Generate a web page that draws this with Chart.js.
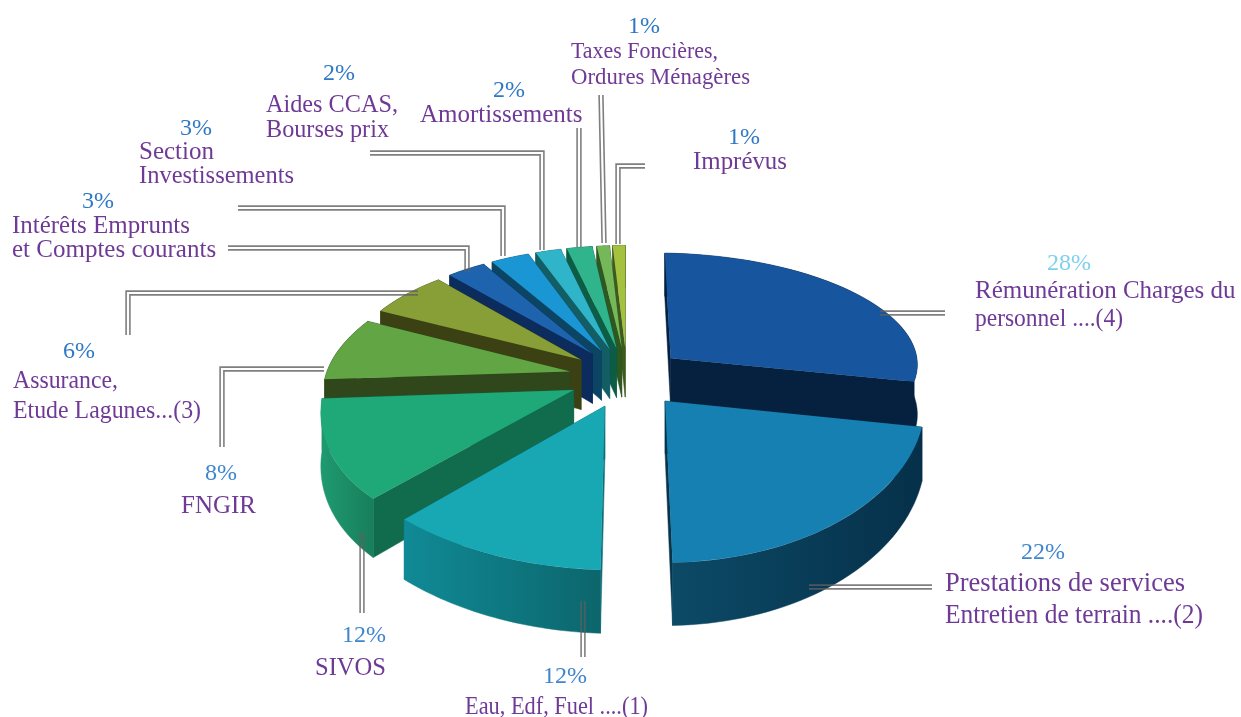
<!DOCTYPE html>
<html>
<head>
  <title>Répartition des dépenses</title>
  <script src="https://cdn.jsdelivr.net/npm/chart.js"></script>
  <style>
    html, body { margin: 0; padding: 0; background: #fff; }
    #box { width: 1241px; height: 717px; position: relative; }
  </style>
</head>
<body>
  <div id="box"><canvas id="grafico" width="1241" height="717"></canvas></div>

  <script>
    // values
    var categories = ["Rémunération Charges du personnel", "Prestations de services", "Eau, Edf, Fuel", "SIVOS", "FNGIR", "Assurance, Etude Lagunes", "Intérêts Emprunts et Comptes courants", "Section Investissements", "Aides CCAS, Bourses prix", "Amortissements", "Taxes Foncières, Ordures Ménagères", "Imprévus"];
    var values = [28, 22, 12, 12, 8, 6, 3, 3, 2, 2, 1, 1];
    var topColors = ["#17559f", "#1780b2", "#18a8b4", "#1fa878", "#62a544", "#879f36", "#1e63ad", "#1a96d4", "#30b4c9", "#2fb48c", "#74b85a", "#a4c13f"];
    var sideColors = ["#05213f", "#07354d", "#0e6f7a", "#116b4d", "#2f471b", "#3c4113", "#0b2c5c", "#0c4464", "#125e64", "#0d5c45", "#2f5720", "#3f5a1e"];
    var rimLeft = ["#05213f", "#0c4a66", "#108a96", "#1f9a70", "#2f471b", "#3c4113", "#0b2c5c", "#0c4464", "#125e64", "#0d5c45", "#2f5720", "#3f5a1e"];
    var rimRight = ["#05213f", "#06304a", "#0c666c", "#177f5c", "#2f471b", "#3c4113", "#0b2c5c", "#0c4464", "#125e64", "#0d5c45", "#2f5720", "#3f5a1e"];

    // text blocks: percent then the lines under it
    var pctLabels = [
      { t: "28%", x: 1047, y: 270, c: "#7fd0ee" },
      { t: "22%", x: 1021, y: 559, c: "#3f86cf" },
      { t: "12%", x: 543, y: 683, c: "#3f86cf" },
      { t: "12%", x: 342, y: 642, c: "#3f86cf" },
      { t: "8%", x: 205, y: 480, c: "#3f86cf" },
      { t: "6%", x: 63, y: 358, c: "#2f78c4" },
      { t: "3%", x: 82, y: 208, c: "#2f78c4" },
      { t: "3%", x: 180, y: 135, c: "#2f78c4" },
      { t: "2%", x: 323, y: 80, c: "#2f78c4" },
      { t: "2%", x: 493, y: 97, c: "#2f78c4" },
      { t: "1%", x: 628, y: 33, c: "#2f78c4" },
      { t: "1%", x: 728, y: 144, c: "#2f78c4" }
    ];
    var textLines = [
      ["Rémunération Charges du", 975, 298, 25, 262], ["personnel ....(4)", 975, 326, 25, 148],
      ["Prestations de services", 945, 591, 27, 240], ["Entretien de terrain ....(2)", 945, 623, 27, 258],
      ["Eau, Edf, Fuel ....(1)", 465, 714, 25, 183],
      ["SIVOS", 315, 675, 25, 71],
      ["FNGIR", 181, 513, 25, 78],
      ["Assurance,", 13, 388, 25, 105], ["Etude Lagunes...(3)", 13, 418, 25, 188],
      ["Intérêts Emprunts", 12, 233, 25, 178], ["et Comptes courants", 12, 257, 25, 206],
      ["Section", 139, 159, 25, 75], ["Investissements", 139, 183, 25, 155],
      ["Aides CCAS,", 266, 112, 25, 132], ["Bourses prix", 266, 137, 25, 123],
      ["Amortissements", 420, 122, 25, 163],
      ["Taxes Foncières,", 571, 58, 23, 147], ["Ordures Ménagères", 571, 84, 23, 179],
      ["Imprévus", 693, 169, 25, 94]
    ];
    // double leader lines
    var leaders = [
      [[880, 313], [945, 313]],
      [[809, 587], [932, 587]],
      [[583, 601], [583, 657]],
      [[362, 532], [362, 613]],
      [[324, 369], [222, 369], [222, 447]],
      [[418, 293], [128, 293], [128, 335]],
      [[467, 272], [467, 248], [228, 248]],
      [[503, 256], [503, 208], [238, 208]],
      [[542, 250], [542, 153], [370, 153]],
      [[579, 247], [579, 128]],
      [[604, 243], [601, 95]],
      [[618, 244], [618, 166], [645, 166]]
    ];

    var vista = { cx: 627, cy: 377, ky: 0.52, p: 0.00065, explode: 58, depth: 51, radius: 245 };
    var drawOrder = [11, 10, 9, 8, 7, 6, 5, 4, 0, 3, 1, 2];
    var serif = '"Liberation Serif", serif';

    function proyectar(u, v) {
      var s = 1 / (1 - vista.p * v);
      return { x: vista.cx + u * s, y: vista.cy + v * vista.ky * s, s: s };
    }

    function polygon(ctx, pts, fill) {
      ctx.beginPath();
      pts.forEach(function (p, i) { if (i) ctx.lineTo(p.x, p.y); else ctx.moveTo(p.x, p.y); });
      ctx.closePath();
      ctx.fillStyle = fill;
      ctx.fill();
      ctx.strokeStyle = fill;
      ctx.lineWidth = 0.5;
      ctx.stroke();
    }

    function drawSlice(ctx, arc, i) {
      var R = arc.outerRadius;
      var a0 = arc.startAngle, a1 = arc.endAngle, mid = (a0 + a1) / 2;
      var ax = vista.explode * Math.cos(mid), ay = vista.explode * Math.sin(mid);
      var d1 = { x: R * Math.cos(a0), y: R * Math.sin(a0) };
      var d2 = { x: R * Math.cos(a1), y: R * Math.sin(a1) };
      var P0 = proyectar(ax, ay);
      var P1 = proyectar(ax + d1.x, ay + d1.y);
      var P2 = proyectar(ax + d2.x, ay + d2.y);
      // affine map of the wedge so its three corners land on the projected ones
      var det = d1.x * d2.y - d2.x * d1.y;
      var q1x = P1.x - P0.x, q1y = P1.y - P0.y, q2x = P2.x - P0.x, q2y = P2.y - P0.y;
      var m = {
        a: (q1x * d2.y - q2x * d1.y) / det,
        c: (q2x * d1.x - q1x * d2.x) / det,
        b: (q1y * d2.y - q2y * d1.y) / det,
        d: (q2y * d1.x - q1y * d2.x) / det
      };
      function aPantalla(t) {
        var u = R * Math.cos(t), v = R * Math.sin(t);
        return { x: P0.x + m.a * u + m.c * v, y: P0.y + m.b * u + m.d * v, s: proyectar(ax + u, ay + v).s };
      }
      function abajo(p) { return { x: p.x, y: p.y + vista.depth * p.s }; }

      var rimTop = [], rimBottom = [], n = 40;
      var minX = Infinity, maxX = -Infinity;
      for (var k = 0; k <= n; k++) {
        var p = aPantalla(a0 + (a1 - a0) * k / n);
        rimTop.push(p);
        rimBottom.unshift(abajo(p));
        minX = Math.min(minX, p.x);
        maxX = Math.max(maxX, p.x);
      }
      var rimFill = ctx.createLinearGradient(minX, 0, maxX, 0);
      rimFill.addColorStop(0, rimLeft[i]);
      rimFill.addColorStop(1, rimRight[i]);
      var faces = [
        { v: ay + R * Math.sin(mid), pts: rimTop.concat(rimBottom), color: rimFill },
        { v: ay + d1.y / 2, pts: [P0, P1, abajo(P1), abajo(P0)], color: sideColors[i] },
        { v: ay + d2.y / 2, pts: [P0, P2, abajo(P2), abajo(P0)], color: sideColors[i] }
      ];
      faces.sort(function (f, g) { return f.v - g.v; });
      faces.forEach(function (f) { polygon(ctx, f.pts, f.color); });

      ctx.save();
      ctx.transform(m.a, m.b, m.c, m.d, P0.x - m.a * arc.x - m.c * arc.y, P0.y - m.b * arc.x - m.d * arc.y);
      arc.draw(ctx);
      ctx.restore();
    }

    // one side of a leader, shifted sideways by d
    function trazoParalelo(ctx, line, d) {
      ctx.beginPath();
      line.forEach(function (p, i) {
        var prev = line[Math.max(i - 1, 0)], next = line[Math.min(i + 1, line.length - 1)];
        var nx = 0, ny = 0;
        if (i > 0) { var l1 = Math.hypot(p[0] - prev[0], p[1] - prev[1]); nx += -(p[1] - prev[1]) / l1; ny += (p[0] - prev[0]) / l1; }
        if (i < line.length - 1) { var l2 = Math.hypot(next[0] - p[0], next[1] - p[1]); nx += -(next[1] - p[1]) / l2; ny += (next[0] - p[0]) / l2; }
        var x = p[0] + nx * d, y = p[1] + ny * d;
        if (i) ctx.lineTo(x, y); else ctx.moveTo(x, y);
      });
      ctx.stroke();
    }

    var pie3d = {
      id: "pie3d",
      beforeDatasetDraw: function (chart, args) {
        var ctx = chart.ctx;
        var arcs = args.meta.data;
        drawOrder.forEach(function (i) { drawSlice(ctx, arcs[i], i); });
        return false;
      },
      afterDraw: function (chart) {
        var ctx = chart.ctx;
        ctx.save();
        ctx.strokeStyle = "rgba(95,95,95,0.8)";
        ctx.lineWidth = 1.6;
        leaders.forEach(function (line) {
          trazoParalelo(ctx, line, 1.9);
          trazoParalelo(ctx, line, -1.9);
        });
        ctx.textBaseline = "alphabetic";
        ctx.textAlign = "left";
        pctLabels.forEach(function (l) {
          ctx.font = "24px " + serif;
          ctx.fillStyle = l.c;
          ctx.fillText(l.t, l.x, l.y);
        });
        textLines.forEach(function (l) {
          ctx.font = l[3] + "px " + serif;
          ctx.fillStyle = "#6f3a96";
          ctx.fillText(l[0], l[1], l[2], l[4]);
        });
        ctx.restore();
      }
    };

    new Chart(document.getElementById("grafico"), {
      type: "pie",
      data: {
        labels: categories,
        datasets: [{ data: values, backgroundColor: topColors, borderWidth: 0, radius: vista.radius }]
      },
      options: {
        responsive: false,
        animation: false,
        plugins: { legend: { display: false }, tooltip: { enabled: false } }
      },
      plugins: [pie3d]
    });
  </script>
</body>
</html>
